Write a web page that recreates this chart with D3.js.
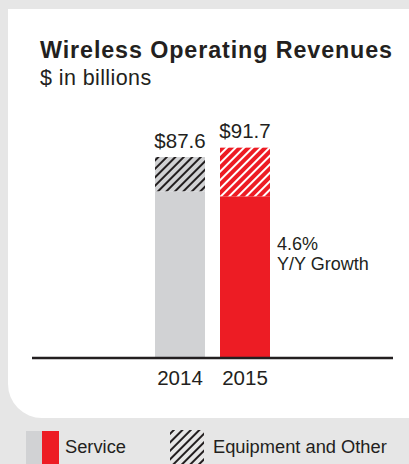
<!DOCTYPE html>
<html>
<head>
<meta charset="utf-8">
<script src="https://cdn.jsdelivr.net/npm/d3@7"></script>
<style>
  html, body { margin: 0; padding: 0; background: #e6e6e6; }
  svg { display: block; font-family: "Liberation Sans", Arial, Helvetica, sans-serif; }
</style>
</head>
<body>
<svg id="chart" width="409" height="464"></svg>
<script>
// Wireless operating revenues, $ in billions
const years = ["2014", "2015"];
const service = [72.6, 70.4];
const equipmentOther = [15.0, 21.3];
const totals = [87.6, 91.7];
const totalLabels = ["$87.6", "$91.7"];
const growthLabel = ["4.6%", "Y/Y Growth"];
const legendLabels = ["Service", "Equipment and Other"];

const barColors = ["#d1d2d4", "#ed1c24"];
const hatchColors = ["#231f20", "#ffffff"];
const ink = "#231f20";

const svg = d3.select("#chart");
const defs = svg.append("defs");

// diagonal hatch pattern: stripes rising to the right
function hatch(id, bg, fg) {
  const p = defs.append("pattern")
    .attr("id", id)
    .attr("patternUnits", "userSpaceOnUse")
    .attr("width", 6).attr("height", 6)
    .attr("patternTransform", "rotate(45)");
  p.append("rect").attr("width", 6).attr("height", 6).attr("fill", bg);
  p.append("rect").attr("width", 2).attr("height", 6).attr("fill", fg);
}
barColors.forEach((c, i) => hatch("hatch" + i, c, hatchColors[i]));
hatch("hatchLegend", "#e6e6e6", ink);

// white card with rounded lower-left corner
const card = { x: 8, y: 9, w: 420, h: 409, r: 34 };
svg.append("path")
  .attr("fill", "#ffffff")
  .attr("d", `M${card.x},${card.y} H${card.x + card.w} V${card.y + card.h} H${card.x + card.r}
     A${card.r},${card.r} 0 0 1 ${card.x},${card.y + card.h - card.r} Z`);

// titles
svg.append("text").attr("x", 40).attr("y", 58)
  .attr("font-size", 23.3).attr("font-weight", "bold").attr("fill", ink)
  .attr("letter-spacing", 0.9)
  .text("Wireless Operating Revenues");
svg.append("text").attr("x", 40).attr("y", 85)
  .attr("font-size", 21.5).attr("fill", ink)
  .attr("letter-spacing", 0.4)
  .text("$ in billions");

// scales
const baseY = 357;
const x = d3.scaleBand().domain(years).range([155, 270]).paddingInner(15 / 65).paddingOuter(0);
const y = d3.scaleLinear().domain([0, 100]).range([baseY, baseY - 228.3]);

const g = svg.append("g");
years.forEach((yr, i) => {
  const bx = x(yr), bw = x.bandwidth();
  g.append("rect")
    .attr("x", bx).attr("width", bw)
    .attr("y", y(service[i])).attr("height", baseY - y(service[i]))
    .attr("fill", barColors[i]);
  g.append("rect")
    .attr("x", bx).attr("width", bw)
    .attr("y", y(service[i] + equipmentOther[i])).attr("height", y(service[i]) - y(service[i] + equipmentOther[i]))
    .attr("fill", `url(#hatch${i})`);
  g.append("text")
    .attr("x", bx + bw / 2).attr("y", y(totals[i]) - 9.5)
    .attr("text-anchor", "middle").attr("font-size", 20.5).attr("fill", ink)
    .text(totalLabels[i]);
});

// baseline and year labels
svg.append("line")
  .attr("x1", 32).attr("x2", 393).attr("y1", baseY + 1).attr("y2", baseY + 1)
  .attr("stroke", ink).attr("stroke-width", 2.5);
const xAxis = d3.axisBottom(x).tickSize(0).tickPadding(0);
const ax = svg.append("g").attr("transform", `translate(0,${baseY})`).call(xAxis);
ax.select(".domain").remove();
ax.selectAll("text")
  .attr("y", 28).attr("dy", 0)
  .attr("font-size", 20.5).attr("fill", ink)
  .attr("font-family", "Liberation Sans, Arial, sans-serif");

// growth annotation
const gx = x("2015") + x.bandwidth() + 7;
growthLabel.forEach((t, i) => {
  svg.append("text").attr("x", gx).attr("y", 250 + i * 20)
    .attr("font-size", 18).attr("fill", ink).text(t);
});

// legend
svg.append("rect").attr("x", 26).attr("y", 431).attr("width", 16).attr("height", 40).attr("fill", barColors[0]);
svg.append("rect").attr("x", 42).attr("y", 431).attr("width", 17).attr("height", 40).attr("fill", barColors[1]);
svg.append("text").attr("x", 65).attr("y", 453).attr("font-size", 18.3).attr("fill", ink).text(legendLabels[0]);
svg.append("rect").attr("x", 170).attr("y", 430).attr("width", 34).attr("height", 40).attr("fill", "url(#hatchLegend)");
svg.append("text").attr("x", 213).attr("y", 453).attr("font-size", 18.3).attr("fill", ink).text(legendLabels[1]);
</script>
</body>
</html>
